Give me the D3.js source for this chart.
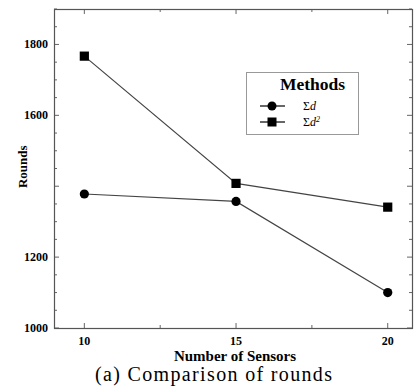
<!DOCTYPE html>
<html>
<head>
<meta charset="utf-8">
<script src="https://cdn.jsdelivr.net/npm/d3@7"></script>
<style>
  body { margin: 0; background: #fff; }
  svg { display: block; }
</style>
</head>
<body>
<div id="chart"></div>
<script>
// data
var sensors = [10, 15, 20]
var sumD = [1378, 1357, 1100]
var sumD2 = [1767, 1408, 1341]
var yLabels = [1000, 1200, 1600, 1800]
var xLabels = [10, 15, 20]

var width = 417
var height = 390
var margin = { left: 54, right: 5, top: 9, bottom: 62 }

var svg = d3.select("#chart")
  .append("svg")
  .attr("width", width)
  .attr("height", height)
  .attr("font-family", "'Liberation Serif', 'DejaVu Serif', serif")

var x = d3.scaleLinear()
  .domain([9, 20.8])
  .range([margin.left, width - margin.right])

var y = d3.scaleLinear()
  .domain([1000, 1900])
  .range([height - margin.bottom, margin.top])

var x0 = margin.left, x1 = width - margin.right
var y0 = height - margin.bottom, y1 = margin.top

// ticks (inward)
var yTicks = d3.range(1000, 1901, 50)
var xTicks = d3.range(10, 20.01, 2.5)

var tickG = svg.append("g").attr("stroke", "#666").attr("stroke-width", 1)
yTicks.forEach(function (t) {
  var len = (t % 200 == 0) ? 5 : 3
  tickG.append("line").attr("x1", x0).attr("x2", x0 + len).attr("y1", y(t)).attr("y2", y(t))
  tickG.append("line").attr("x1", x1).attr("x2", x1 - len).attr("y1", y(t)).attr("y2", y(t))
})
xTicks.forEach(function (t) {
  var len = (t % 5 == 0) ? 5 : 3
  tickG.append("line").attr("x1", x(t)).attr("x2", x(t)).attr("y1", y0).attr("y2", y0 - len)
  tickG.append("line").attr("x1", x(t)).attr("x2", x(t)).attr("y1", y1).attr("y2", y1 + len)
})

// frame
svg.append("rect")
  .attr("x", x0 + 0.5)
  .attr("y", y1 + 0.5)
  .attr("width", x1 - x0)
  .attr("height", y0 - y1)
  .attr("fill", "none")
  .attr("stroke", "#555")
  .attr("stroke-width", 1.2)

// tick labels
svg.selectAll(".ylab")
  .data(yLabels)
  .enter()
  .append("text")
  .attr("x", x0 - 6)
  .attr("y", function (d) { return y(d) + 4 })
  .attr("text-anchor", "end")
  .attr("font-size", 12)
  .attr("font-weight", "bold")
  .text(function (d) { return d })

svg.selectAll(".xlab")
  .data(xLabels)
  .enter()
  .append("text")
  .attr("x", function (d) { return x(d) })
  .attr("y", y0 + 17)
  .attr("text-anchor", "middle")
  .attr("font-size", 12)
  .attr("font-weight", "bold")
  .text(function (d) { return d })

// axis titles
svg.append("text")
  .attr("transform", "translate(27," + y(1455) + ") rotate(-90)")
  .attr("text-anchor", "middle")
  .attr("font-size", 13)
  .attr("font-weight", "bold")
  .text("Rounds")

svg.append("text")
  .attr("x", 235)
  .attr("y", 361)
  .attr("text-anchor", "middle")
  .attr("font-size", 15)
  .attr("font-weight", "bold")
  .text("Number of Sensors")

svg.append("text")
  .attr("x", 95)
  .attr("y", 381)
  .attr("font-size", 20)
  .attr("textLength", 237)
  .attr("lengthAdjust", "spacing")
  .text("(a) Comparison of rounds")

// lines
var line = d3.line()
  .x(function (d, i) { return x(sensors[i]) })
  .y(function (d) { return y(d) })

svg.append("path").datum(sumD).attr("d", line)
  .attr("fill", "none").attr("stroke", "#444").attr("stroke-width", 1.2)
svg.append("path").datum(sumD2).attr("d", line)
  .attr("fill", "none").attr("stroke", "#444").attr("stroke-width", 1.2)

svg.selectAll(".dot")
  .data(sumD)
  .enter()
  .append("circle")
  .attr("cx", function (d, i) { return x(sensors[i]) })
  .attr("cy", function (d) { return y(d) })
  .attr("r", 4.6)
  .attr("fill", "#000")

svg.selectAll(".sq")
  .data(sumD2)
  .enter()
  .append("rect")
  .attr("x", function (d, i) { return x(sensors[i]) - 4.6 })
  .attr("y", function (d) { return y(d) - 4.6 })
  .attr("width", 9.2)
  .attr("height", 9.2)
  .attr("fill", "#000")

// legend
var lg = svg.append("g")
lg.append("rect")
  .attr("x", 246.5).attr("y", 72.5)
  .attr("width", 112).attr("height", 62)
  .attr("fill", "#fff").attr("stroke", "#999").attr("stroke-width", 1)
lg.append("text")
  .attr("x", 280).attr("y", 90)
  .attr("font-size", 17.5)
  .attr("font-weight", "bold")
  .text("Methods")

var items = [{ name: "d", sup: "", shape: "circle" }, { name: "d", sup: "2", shape: "square" }]
items.forEach(function (it, i) {
  var ly = 106 + i * 16
  lg.append("line").attr("x1", 260).attr("x2", 285).attr("y1", ly).attr("y2", ly)
    .attr("stroke", "#000").attr("stroke-width", 1.2)
  if (it.shape == "circle") {
    lg.append("circle").attr("cx", 272).attr("cy", ly).attr("r", 4.5).attr("fill", "#000")
  } else {
    lg.append("rect").attr("x", 267.5).attr("y", ly - 4.5).attr("width", 9).attr("height", 9).attr("fill", "#000")
  }
  var t = lg.append("text").attr("x", 303).attr("y", ly + 4).attr("font-size", 12)
  t.append("tspan").text("\u03A3")
  t.append("tspan").attr("font-style", "italic").text(it.name)
  if (it.sup) t.append("tspan").attr("font-style", "italic").attr("font-size", 8).attr("dy", -4).text(it.sup)
})
</script>
</body>
</html>
